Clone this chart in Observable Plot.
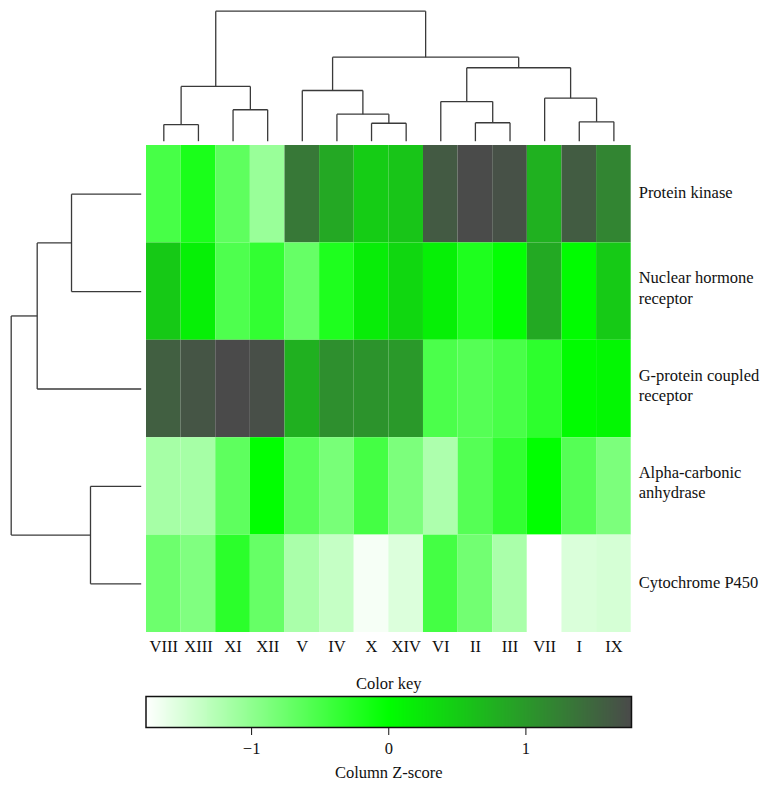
<!DOCTYPE html>
<html>
<head>
<meta charset="utf-8">
<script src="https://cdn.jsdelivr.net/npm/d3@7"></script>
<script src="https://cdn.jsdelivr.net/npm/@observablehq/plot@0.6"></script>
<style>
  html, body { margin: 0; padding: 0; background: #ffffff; }
  #chart { position: relative; width: 770px; height: 787px; overflow: hidden; background: #ffffff; }
</style>
</head>
<body>
<div id="chart"></div>
<script>
// ---------------- data ----------------
const columns = ["VIII", "XIII", "XI", "XII", "V", "IV", "X", "XIV", "VI", "II", "III", "VII", "I", "IX"];
const rows = ["Protein kinase", "Nuclear hormone receptor", "G-protein coupled receptor", "Alpha-carbonic anhydrase", "Cytochrome P450"];
const rowLabels = ["Protein kinase", "Nuclear hormone\nreceptor", "G-protein coupled\nreceptor", "Alpha-carbonic\nanhydrase", "Cytochrome P450"];

// column Z-scores, one array per row, in column order above
const zProteinKinase   = [-0.49, -0.18, -0.65, -1.06, 1.32, 0.85, 0.50, 0.57, 1.61, 1.76, 1.70, 0.76, 1.59, 1.19];
const zNuclearHormone  = [0.53, 0.15, -0.54, -0.35, -0.71, -0.21, 0.18, 0.39, 0.15, -0.21, -0.03, 0.84, 0.03, 0.52];
const zGProtein        = [1.56, 1.66, 1.77, 1.72, 0.77, 1.10, 1.06, 1.00, -0.52, -0.59, -0.50, -0.31, 0.03, 0.08];
const zAlphaCarbonic   = [-1.15, -1.15, -0.65, -0.01, -0.62, -0.83, -0.47, -0.86, -1.20, -0.59, -0.35, -0.01, -0.59, -0.86];
const zCytochrome      = [-0.76, -0.89, -0.30, -0.71, -1.18, -1.37, -1.71, -1.53, -0.47, -0.79, -1.18, -1.77, -1.51, -1.48];
const series = [zProteinKinase, zNuclearHormone, zGProtein, zAlphaCarbonic, zCytochrome];

// dendrograms: [left, right, mergeHeight] (root height = 100)
const colTree = [
  [["VIII", "XIII", 12.8], ["XI", "XII", 24.2], 42.1],
  [["V", ["IV", ["X", "XIV", 13.8], 20.8], 39.0],
   [["VI", ["II", "III", 14.2], 30.5], ["VII", ["I", "IX", 14.9], 33.1], 56.5], 64.6],
  100
];
const rowTree = [
  [["Protein kinase", "Nuclear hormone receptor", 53.6], "G-protein coupled receptor", 80.0],
  ["Alpha-carbonic anhydrase", "Cytochrome P450", 39.0],
  100
];

const keyDomain = [-1.77, 0, 1.77];
const keyColors = ["#ffffff", "#00ff00", "#4a4a4a"];
const keyTicks = [-1, 0, 1];

// ---------------- helpers ----------------
function dendroSegments(tree, leaves) {
  const segs = [];
  function walk(node) {
    if (typeof node === "string") return {p: leaves.indexOf(node) + 0.5, h: 0};
    const [a, b, h] = node;
    const la = walk(a), lb = walk(b);
    segs.push({p1: la.p, h1: la.h, p2: la.p, h2: h});
    segs.push({p1: la.p, h1: h, p2: lb.p, h2: h});
    segs.push({p1: lb.p, h1: h, p2: lb.p, h2: lb.h});
    return {p: (la.p + lb.p) / 2, h};
  }
  walk(tree);
  return segs;
}

const cells = rows.flatMap((r, i) => columns.map((c, j) => ({row: r, col: c, z: series[i][j]})));
const colorScale = {type: "linear", domain: keyDomain, range: keyColors, interpolate: "rgb"};
const font = {fontFamily: "'Liberation Serif', 'DejaVu Serif', serif", fontSize: "16.5px", background: "transparent", color: "#111"};

const W = 770;
const heatLeft = 146, heatRight = 630.7, heatTop = 145, heatBottom = 632;
const leafEnd = 140.7, rootPos = 10.7;
const chart = document.getElementById("chart");

function place(el, top) { el.style.position = "absolute"; el.style.left = "0px"; el.style.top = top + "px"; chart.appendChild(el); }

// ---------------- top dendrogram ----------------
const colSegs = dendroSegments(colTree, columns);
place(Plot.plot({
  width: W, height: heatTop,
  marginLeft: heatLeft, marginRight: W - heatRight, marginTop: rootPos, marginBottom: heatTop - leafEnd,
  style: font,
  x: {domain: [0, columns.length], axis: null},
  y: {domain: [0, 100], axis: null},
  marks: [
    Plot.link(colSegs, {x1: "p1", y1: "h1", x2: "p2", y2: "h2", stroke: "#3a3a3a", strokeWidth: 1.3})
  ]
}), 0);

// ---------------- left dendrogram ----------------
const rowSegs = dendroSegments(rowTree, rows);
place(Plot.plot({
  width: W, height: 660,
  marginLeft: rootPos, marginRight: W - leafEnd, marginTop: heatTop, marginBottom: 660 - heatBottom,
  style: font,
  x: {domain: [100, 0], axis: null},
  y: {domain: [0, rows.length], reverse: true, axis: null},
  marks: [
    Plot.link(rowSegs, {x1: "h1", y1: "p1", x2: "h2", y2: "p2", stroke: "#3a3a3a", strokeWidth: 1.3})
  ]
}), 0);

// ---------------- heatmap ----------------
place(Plot.plot({
  width: W, height: 660,
  marginLeft: heatLeft, marginRight: W - heatRight, marginTop: heatTop, marginBottom: 660 - heatBottom,
  style: font,
  x: {type: "band", domain: columns, padding: 0, round: false, tickSize: 0, tickPadding: 8, label: null},
  y: {type: "band", domain: rows, padding: 0, round: false, axis: null},
  color: colorScale,
  marks: [
    Plot.cell(cells, {x: "col", y: "row", fill: "z", inset: 0}),
    Plot.text(rows.filter((r, i) => !rowLabels[i].includes("\n")), {
      y: d => d, text: d => rowLabels[rows.indexOf(d)], frameAnchor: "right",
      textAnchor: "start", lineAnchor: "middle", dx: 7.5, dy: -1, fill: "#111"
    }),
    Plot.text(rows.filter((r, i) => rowLabels[i].includes("\n")), {
      y: d => d, text: d => rowLabels[rows.indexOf(d)], frameAnchor: "right",
      textAnchor: "start", lineAnchor: "middle", dx: 7.5, dy: -4.5, lineHeight: 1.22, fill: "#111"
    })
  ]
}), 0);

// ---------------- color key ----------------
const keyTop = 666, keyH = 121;
place(Plot.plot({
  width: W, height: keyH,
  marginLeft: 145.5, marginRight: W - 631, marginTop: 696 - keyTop, marginBottom: keyH - (727 - keyTop),
  style: font,
  x: {domain: [keyDomain[0], keyDomain[2]], ticks: keyTicks, tickFormat: d3.format("d"), tickSize: 8, tickPadding: 7, label: null},
  y: {domain: [0, 1], axis: null},
  color: colorScale,
  marks: [
    Plot.raster({fill: (x, y) => x, x1: keyDomain[0], x2: keyDomain[2], y1: 0, y2: 1, pixelSize: 1}),
    Plot.frame({stroke: "#111", strokeWidth: 1.5}),
    Plot.text(["Color key"], {text: d => d, frameAnchor: "top", lineAnchor: "middle", dy: -13, fill: "#111"}),
    Plot.text(["Column Z-score"], {text: d => d, frameAnchor: "bottom", lineAnchor: "middle", dy: 45.5, fill: "#111"})
  ]
}), keyTop);
</script>
</body>
</html>
